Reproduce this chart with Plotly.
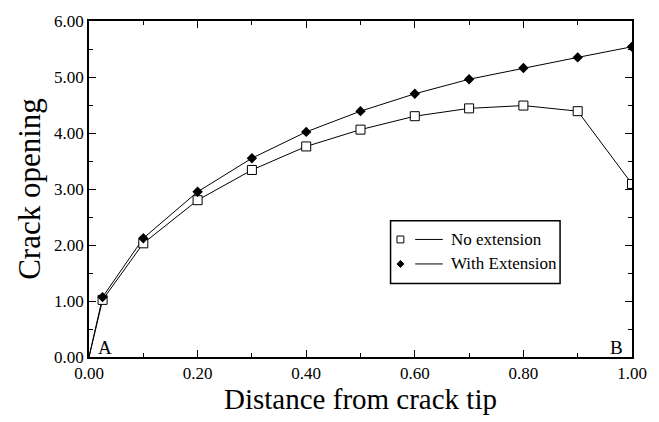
import plotly.graph_objects as go

distance = [0.0, 0.025, 0.1, 0.2, 0.3, 0.4, 0.5, 0.6, 0.7, 0.8, 0.9, 1.0]
no_extension = [0.0, 1.02, 2.03, 2.80, 3.34, 3.76, 4.06, 4.30, 4.44, 4.49, 4.39, 3.09]
with_extension = [0.0, 1.07, 2.12, 2.95, 3.55, 4.02, 4.39, 4.70, 4.96, 5.16, 5.35, 5.54]
series_names = ["No extension", "With Extension"]

x_ticks = [0.0, 0.2, 0.4, 0.6, 0.8, 1.0]
x_labels = ["0.00", "0.20", "0.40", "0.60", "0.80", "1.00"]
y_ticks = [0, 1, 2, 3, 4, 5, 6]
y_labels = ["0.00", "1.00", "2.00", "3.00", "4.00", "5.00", "6.00"]

font = "Liberation Serif"

# plot area in pixels (for the hand-made legend)
W, H = 659, 422
L, R, T, B = 89, 19, 14, 65
pw, ph = W - L - R, H - T - B


def px(xp):
    return (xp - L) / pw


def py(yp):
    return (H - B - yp) / ph


fig = go.Figure()
# lines through origin
fig.add_trace(go.Scatter(x=distance, y=no_extension, mode="lines", showlegend=False,
                         line=dict(color="black", width=1), hoverinfo="skip"))
fig.add_trace(go.Scatter(x=distance, y=with_extension, mode="lines", showlegend=False,
                         line=dict(color="black", width=1), hoverinfo="skip"))
# markers (no marker at the origin)
fig.add_trace(go.Scatter(x=distance[1:], y=no_extension[1:], mode="markers",
                         name=series_names[0], showlegend=False,
                         marker=dict(symbol="square", size=9, color="white",
                                     line=dict(color="black", width=1))))
fig.add_trace(go.Scatter(x=distance[1:], y=with_extension[1:], mode="markers",
                         name=series_names[1], showlegend=False,
                         marker=dict(symbol="diamond", size=8, color="black")))

axis_common = dict(
    showline=True, linecolor="black", linewidth=1.5, mirror="ticks",
    ticks="inside", ticklen=7, tickcolor="black", tickwidth=1,
    showgrid=False, zeroline=False,
    tickfont=dict(family=font, size=17, color="black"),
)

fig.update_xaxes(
    range=[0, 1], tickvals=x_ticks, ticktext=x_labels,
    minor=dict(ticks="inside", ticklen=4, dtick=0.1, tickcolor="black"),
    title=dict(text="Distance from crack tip", font=dict(family=font, size=29, color="black"), standoff=2),
    **axis_common)
fig.update_yaxes(
    range=[0, 6], tickvals=y_ticks, ticktext=y_labels,
    minor=dict(ticks="inside", ticklen=4, dtick=0.5, tickcolor="black"),
    title=dict(text="Crack opening", font=dict(family=font, size=31, color="black"), standoff=4),
    **axis_common)

fig.add_annotation(x=0.029, y=0.17, text="A", showarrow=False,
                   font=dict(family=font, size=19, color="black"))
fig.add_annotation(x=0.972, y=0.17, text="B", showarrow=False,
                   font=dict(family=font, size=19, color="black"))

# hand-made legend: marker, short line, text
shapes = [dict(type="rect", xref="paper", yref="paper",
               x0=px(395), x1=px(567), y0=py(282), y1=py(218),
               line=dict(color="black", width=1.5), fillcolor="white", layer="above")]
rows = [237, 262]
for name, row in zip(series_names, rows):
    shapes.append(dict(type="line", xref="paper", yref="paper",
                       x0=px(420), x1=px(448), y0=py(row), y1=py(row),
                       line=dict(color="black", width=1), layer="above"))
    fig.add_annotation(x=px(454), y=py(row), xref="paper", yref="paper",
                       text=name, showarrow=False, xanchor="left", yanchor="middle",
                       font=dict(family=font, size=17, color="black"))
mx = 405
shapes.append(dict(type="rect", xref="paper", yref="paper",
                   x0=px(mx - 3.5), x1=px(mx + 3.5), y0=py(rows[0] + 3.5), y1=py(rows[0] - 3.5),
                   line=dict(color="black", width=1), fillcolor="white", layer="above"))
cy = rows[1]
shapes.append(dict(type="path", xref="paper", yref="paper",
                   path=(f"M {px(mx-3.5)} {py(cy)} L {px(mx)} {py(cy-3.5)} "
                         f"L {px(mx+3.5)} {py(cy)} L {px(mx)} {py(cy+3.5)} Z"),
                   line=dict(color="black", width=1), fillcolor="black", layer="above"))

fig.update_layout(
    width=W, height=H,
    margin=dict(l=L, r=R, t=T, b=B),
    paper_bgcolor="white", plot_bgcolor="white",
    showlegend=False,
    shapes=shapes,
)

fig.write_html("out.html")
